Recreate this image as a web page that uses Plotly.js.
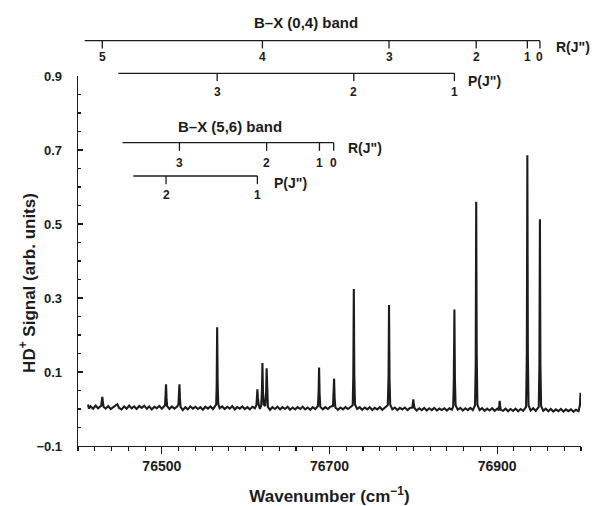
<!DOCTYPE html>
<html>
<head>
<meta charset="utf-8">
<script src="https://cdn.plot.ly/plotly-3.0.1.min.js"></script>
<style>html,body{margin:0;padding:0;background:#fff;}#chart{width:595px;height:506px;}</style>
</head>
<body>
<div id="chart"></div>
<script>
const wavenumber = [
  76412, 76413, 76415, 76418, 76421, 76424, 76426.5,
  76427.5, 76428.3, 76429, 76429.7, 76430.5,
  76433, 76436, 76439, 76442, 76445, 76447, 76449, 76452, 76455, 76458, 76461, 76464, 76467, 76470,
  76473, 76476, 76479, 76482, 76485, 76488, 76491, 76494, 76497, 76500, 76503,
  76503.8, 76504.4, 76505, 76505.6, 76506.3,
  76509, 76512, 76515, 76518,
  76519.8, 76520.4, 76521, 76521.6, 76522.3,
  76525, 76528, 76531, 76534, 76537, 76540, 76543, 76546, 76549, 76552, 76555, 76558, 76561, 76563.5,
  76564.8, 76565.4, 76566, 76566.6, 76567.3,
  76569, 76572, 76575, 76578, 76581, 76584, 76587, 76590, 76593, 76596, 76599, 76602, 76605, 76608, 76611,
  76612.8, 76613.4, 76614, 76614.6, 76615.5, 76617,
  76618.5, 76619.4, 76620, 76620.6, 76621.5,
  76623.3, 76624.4, 76625, 76625.6, 76626.5,
  76629, 76632, 76635, 76638, 76641, 76644, 76647, 76650, 76653, 76656, 76659, 76662, 76665, 76668, 76671,
  76674, 76677, 76680, 76683,
  76686.2, 76687, 76687.6, 76688.2, 76689,
  76692, 76695, 76698, 76701,
  76704.2, 76704.9, 76705.5, 76706.1, 76707,
  76710, 76713, 76716, 76719, 76722, 76725,
  76727.7, 76728.4, 76729, 76729.6, 76730.4,
  76733, 76736, 76739, 76742, 76745, 76748, 76751, 76754, 76757, 76760, 76763, 76766,
  76769.5, 76770.4, 76771, 76771.6, 76772.4,
  76775, 76778, 76781, 76784, 76787, 76790, 76793, 76796,
  76798.8, 76799.5, 76800, 76800.6, 76801.5,
  76804, 76807, 76810, 76813, 76816, 76819, 76822, 76825, 76828, 76831, 76834, 76837, 76840, 76843, 76846,
  76847.6, 76848.3, 76849, 76849.6, 76850.4,
  76853, 76856, 76859, 76862, 76865, 76868, 76871,
  76873.6, 76874.4, 76875, 76875.6, 76876.4,
  76879, 76882, 76885, 76888, 76891, 76894, 76897, 76900, 76902,
  76902.6, 76903, 76903.5, 76904.3,
  76907, 76910, 76913, 76916, 76919, 76922, 76925, 76928, 76931,
  76934.5, 76935.4, 76936, 76936.6, 76937.4,
  76940, 76943, 76946,
  76949.6, 76950.4, 76951, 76951.6, 76952.4,
  76955, 76958, 76961, 76964, 76967, 76970, 76973, 76976, 76979, 76982, 76985, 76988, 76991, 76994, 76997,
  76998.7, 76999.5
];
const signal = [
  0.012, 0.001, 0.007, 0.001, 0.009, 0.002, 0.007,
  0.008, 0.020, 0.033, 0.018, 0.006,
  0.001, 0.008, 0.000, 0.006, 0.010, 0.013, 0.003, -0.001, 0.007, 0.001, 0.009, 0.002, 0.007, 0.000,
  0.008, 0.003, 0.009, 0.001, 0.007, -0.001, 0.006, 0.002, 0.008, 0.001, 0.007,
  0.010, 0.035, 0.067, 0.030, 0.008,
  0.000, 0.007, 0.001, 0.006,
  0.012, 0.035, 0.067, 0.030, 0.006,
  -0.003, 0.005, -0.001, 0.007, 0.001, 0.006, 0.000, 0.005, -0.002, 0.006, 0.001, 0.007, 0.000, 0.006,
  0.012, 0.060, 0.221, 0.070, 0.014,
  0.002, 0.007, 0.000, 0.006, 0.001, 0.008, -0.001, 0.005, 0.001, 0.007, 0.000, 0.005, -0.001, 0.006, 0.002,
  0.010, 0.030, 0.053, 0.030, 0.012, 0.000,
  0.010, 0.050, 0.124, 0.050, 0.012,
  0.008, 0.045, 0.110, 0.040, 0.006,
  -0.002, 0.005, 0.000, 0.006, -0.001, 0.005, 0.000, 0.006, -0.002, 0.004, -0.001, 0.005, 0.000, 0.006, -0.001,
  0.004, -0.002, 0.005, 0.000,
  0.008, 0.045, 0.112, 0.040, 0.006,
  -0.001, 0.005, 0.000, 0.006,
  0.008, 0.035, 0.082, 0.030, 0.004,
  -0.002, 0.004, -0.001, 0.005, 0.000, 0.006,
  0.010, 0.090, 0.324, 0.090, 0.012,
  0.000, 0.005, -0.002, 0.004, -0.001, 0.005, -0.003, 0.003, -0.001, 0.005, -0.002, 0.004,
  0.010, 0.080, 0.281, 0.080, 0.012,
  -0.001, 0.004, -0.003, 0.003, -0.001, 0.004, -0.003, 0.003,
  0.004, 0.015, 0.026, 0.012, 0.002,
  -0.004, 0.002, -0.003, 0.003, -0.004, 0.002, -0.003, 0.003, -0.004, 0.001, -0.003, 0.002, -0.004, 0.002, -0.002,
  0.008, 0.080, 0.269, 0.080, 0.010,
  -0.002, 0.003, -0.004, 0.002, -0.003, 0.003, -0.003,
  0.010, 0.120, 0.560, 0.150, 0.012,
  -0.003, 0.002, -0.005, 0.001, -0.004, 0.002, -0.005, 0.001, -0.003,
  0.012, 0.022, 0.010, -0.002,
  -0.005, 0.001, -0.006, 0.000, -0.005, 0.001, -0.006, 0.000, -0.005,
  0.006, 0.150, 0.686, 0.150, 0.010,
  -0.004, 0.002, -0.005,
  0.006, 0.120, 0.513, 0.120, 0.008,
  -0.005, 0.001, -0.006, 0.000, -0.007, -0.001, -0.006, 0.000, -0.007, -0.001, -0.006, -0.001, -0.007, -0.002, -0.006,
  0.010, 0.044
];

// Line assignments (cm^-1) and rotational labels
const r04Pos = [76429, 76620, 76771, 76875, 76936, 76951];
const r04Lab = ['5', '4', '3', '2', '1', '0'];
const r04Start = 76408;
const p04Pos = [76566, 76729, 76849];
const p04Lab = ['3', '2', '1'];
const p04Start = 76448;
const r56Pos = [76521, 76625, 76688, 76705];
const r56Lab = ['3', '2', '1', '0'];
const r56Start = 76453;
const p56Pos = [76505, 76614];
const p56Lab = ['2', '1'];
const p56Start = 76466;

const FONT = 'Liberation Sans, Arial, Helvetica, sans-serif';
const INK = '#1c1c1c';

const shapes = [];
const annotations = [];

function bracket(startX, pos, labs, yLine, tickLen, yLab, name, nameX, nameY) {
  const endX = pos[pos.length - 1];
  shapes.push({type: 'line', xref: 'x', yref: 'paper', x0: startX, x1: endX, y0: yLine, y1: yLine,
               line: {color: INK, width: 1.3}});
  pos.forEach((p, i) => {
    shapes.push({type: 'line', xref: 'x', yref: 'paper', x0: p, x1: p, y0: yLine, y1: yLine - tickLen,
                 line: {color: INK, width: 1.3}});
    annotations.push({xref: 'x', yref: 'paper', x: p, y: yLab, text: labs[i], showarrow: false,
                      xanchor: 'center', yanchor: 'middle',
                      font: {family: FONT, size: 12, color: INK, weight: 'bold'}});
  });
  annotations.push({xref: 'paper', yref: 'paper', x: nameX, y: nameY, text: name, showarrow: false,
                    xanchor: 'left', yanchor: 'middle',
                    font: {family: FONT, size: 14, color: INK, weight: 'bold'}});
}

bracket(r04Start, r04Pos, r04Lab, 1.0954, 0.021, 1.0505, 'R(J")', 0.946, 1.0776);
bracket(p04Start, p04Pos, p04Lab, 1.0073, 0.021, 0.958, 'P(J")', 0.771, 0.9857);
bracket(r56Start, r56Pos, r56Lab, 0.8197, 0.022, 0.7657, 'R(J")', 0.533, 0.8054);
bracket(p56Start, p56Pos, p56Lab, 0.7297, 0.022, 0.678, 'P(J")', 0.386, 0.710);

annotations.push({xref: 'paper', yref: 'paper', x: 0.453, y: 1.144, text: 'B\u2013X (0,4) band', showarrow: false,
                  xanchor: 'center', yanchor: 'middle', font: {family: FONT, size: 15, color: INK, weight: 'bold'}});
annotations.push({xref: 'paper', yref: 'paper', x: 0.302, y: 0.863, text: 'B\u2013X (5,6) band', showarrow: false,
                  xanchor: 'center', yanchor: 'middle', font: {family: FONT, size: 15, color: INK, weight: 'bold'}});
// y-axis title (placed like the original, slightly below centre)
annotations.push({xref: 'paper', yref: 'paper', x: -0.1, y: 0.44, text: 'HD<sup>+</sup> Signal (arb. units)',
                  showarrow: false, textangle: -90, xanchor: 'center', yanchor: 'middle',
                  font: {family: FONT, size: 17, color: INK, weight: 'bold'}});

const trace = {
  x: wavenumber, y: signal, type: 'scatter', mode: 'lines',
  line: {color: INK, width: 2.1}, hoverinfo: 'x+y'
};

const layout = {
  width: 595, height: 506,
  margin: {l: 78, r: 14, t: 76, b: 60},
  paper_bgcolor: '#fff', plot_bgcolor: '#fff',
  showlegend: false,
  font: {family: FONT, color: INK},
  xaxis: {
    range: [76400, 77000], tick0: 76500, dtick: 200, tickmode: 'linear', tickformat: 'd',
    showgrid: false, zeroline: false, showline: true, linecolor: INK, linewidth: 1.3,
    ticks: 'outside', ticklen: 7, tickwidth: 1.3, tickcolor: INK,
    minor: {dtick: 20, ticks: 'outside', ticklen: 4, tickwidth: 1.1, tickcolor: INK, showgrid: false},
    tickfont: {family: FONT, size: 14, color: INK, weight: 'bold'},
    ticklabelstandoff: 0,
    title: {text: 'Wavenumber (cm<sup>\u22121</sup>)', font: {family: FONT, size: 17, color: INK, weight: 'bold'}, standoff: 18}
  },
  yaxis: {
    range: [-0.1, 0.9], tick0: -0.1, dtick: 0.2, tickmode: 'linear', tickformat: '.1f',
    showgrid: false, zeroline: false, showline: true, linecolor: INK, linewidth: 1.3,
    ticks: 'inside', ticklen: 5, tickwidth: 1.3, tickcolor: INK,
    minor: {dtick: 0.05, ticks: 'inside', ticklen: 3, tickwidth: 1.1, tickcolor: INK, showgrid: false},
    tickfont: {family: FONT, size: 13, color: INK, weight: 'bold'},
    ticklabelstandoff: 12
  },
  shapes: shapes,
  annotations: annotations
};

Plotly.newPlot('chart', [trace], layout, {displayModeBar: false, staticPlot: true});
</script>
</body>
</html>
